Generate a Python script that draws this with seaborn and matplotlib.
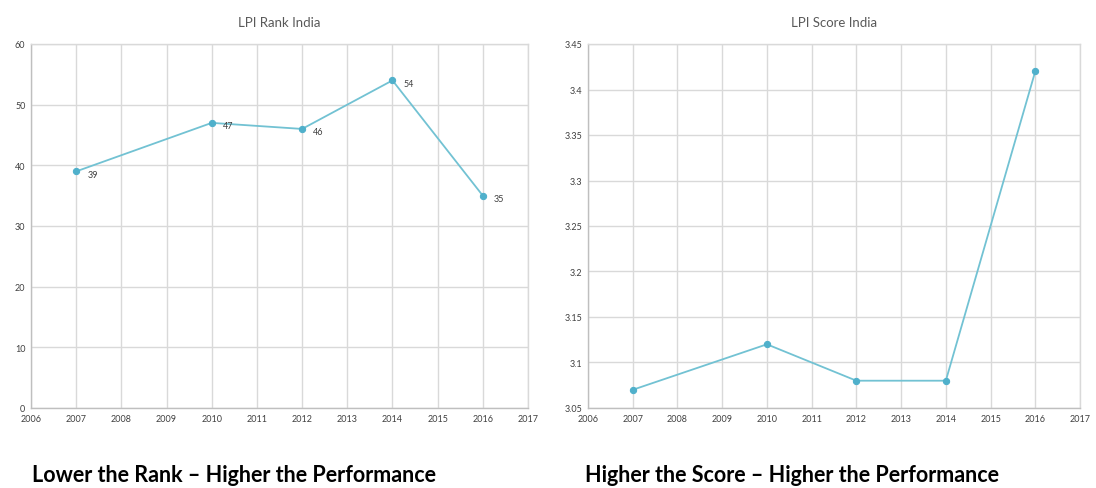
import matplotlib
matplotlib.use("Agg")
import matplotlib.pyplot as plt
import seaborn as sns
import pandas as pd

years = [2007, 2010, 2012, 2014, 2016]
lpi_rank = [39, 47, 46, 54, 35]
lpi_score = [3.07, 3.12, 3.08, 3.08, 3.42]
year_ticks = list(range(2006, 2018))
rank_ticks = [0, 10, 20, 30, 40, 50, 60]
score_ticks = [3.05, 3.1, 3.15, 3.2, 3.25, 3.3, 3.35, 3.4, 3.45]
score_tick_labels = ["3.05", "3.1", "3.15", "3.2", "3.25", "3.3", "3.35", "3.4", "3.45"]

sns.set_theme(style="whitegrid")
plt.rcParams["font.family"] = ["Lato", "DejaVu Sans"]

line_color = "#72c2d3"
marker_color = "#4fb0cb"
grid_color = "#d9d9d9"
tick_color = "#404040"

df = pd.DataFrame({"year": years, "rank": lpi_rank, "score": lpi_score})

fig = plt.figure(figsize=(10.96, 4.89), dpi=100)
ax1 = fig.add_axes([31 / 1096, 1 - 409 / 489, (528 - 31) / 1096, (409 - 45) / 489])
ax2 = fig.add_axes([588 / 1096, 1 - 409 / 489, (1080 - 588) / 1096, (409 - 45) / 489])

for ax, col in ((ax1, "rank"), (ax2, "score")):
    sns.lineplot(data=df, x="year", y=col, ax=ax, color=line_color, linewidth=1.3,
                 marker="o", markersize=4.5, markerfacecolor=marker_color,
                 markeredgecolor=marker_color)
    ax.set_xlim(2006, 2017)
    ax.set_xticks(year_ticks)
    ax.set_xticklabels([str(y) for y in year_ticks])
    ax.set_xlabel("")
    ax.set_ylabel("")
    ax.grid(True, color=grid_color, linewidth=1)
    for s in ax.spines.values():
        s.set_visible(True)
        s.set_color(grid_color)
        s.set_linewidth(1)
    ax.spines["bottom"].set_color("#bfbfbf")
    ax.spines["left"].set_color("#bfbfbf")
    ax.tick_params(axis="both", labelsize=6.5, colors=tick_color, length=0, pad=4)

ax1.set_ylim(0, 60)
ax1.set_yticks(rank_ticks)
ax1.set_title("LPI Rank India", fontsize=9.5, color="#595959", pad=13)
for x, y in zip(years, lpi_rank):
    ax1.annotate(str(y), (x, y), xytext=(8, -2), textcoords="offset points",
                 fontsize=6.5, color="#404040", va="center", ha="left")

ax2.set_ylim(3.05, 3.45)
ax2.set_yticks(score_ticks)
ax2.set_yticklabels(score_tick_labels)
ax2.set_title("LPI Score India", fontsize=9.5, color="#595959", pad=13)

fig.text(32 / 1096, 1 - 476 / 489, "Lower the Rank \u2013 Higher the Performance",
         fontsize=15.5, fontweight="bold", color="#000000", ha="left", va="center")
fig.text(585 / 1096, 1 - 476 / 489, "Higher the Score \u2013 Higher the Performance",
         fontsize=15.5, fontweight="bold", color="#000000", ha="left", va="center")

fig.savefig("out.png", dpi=100, facecolor="white")
